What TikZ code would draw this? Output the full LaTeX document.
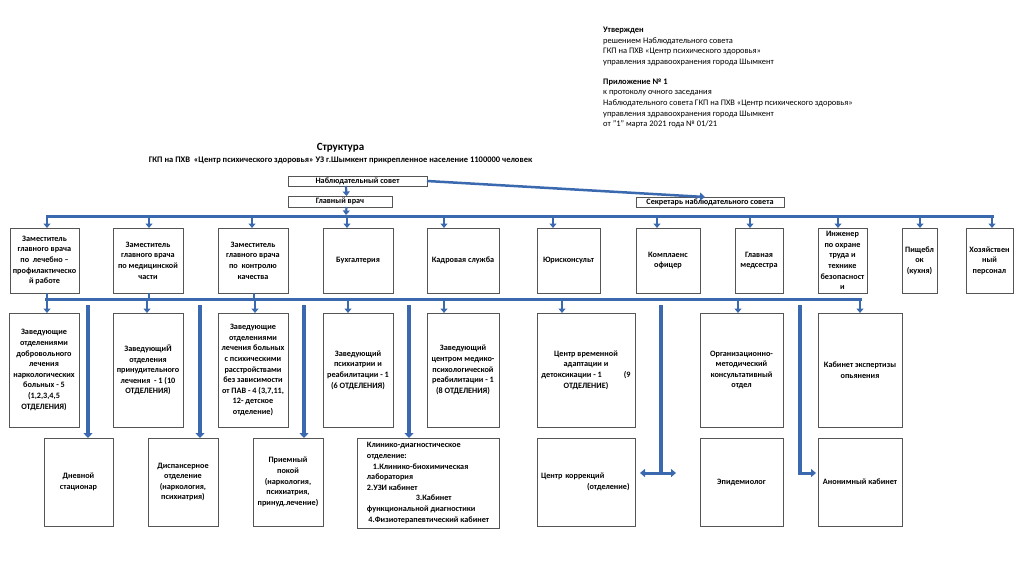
\documentclass[tikz,border=0pt]{standalone}
\usepackage{fontspec}
\setmainfont{Carlito}
\usetikzlibrary{arrows.meta,calc}
\definecolor{lnblue}{RGB}{59,105,175}
\definecolor{bxgray}{RGB}{85,85,85}
\newcommand\bx[7][]{\node[box,#1,minimum width={(#5)-(#3)},minimum height={(#6)-(#4)}] (#2) at ({((#3)+(#5))/2},{((#4)+(#6))/2}) {#7};}
\tikzset{
  box/.style={draw=bxgray, line width=0.8pt, fill=white, inner sep=0.3pt, outer sep=0pt, align=center,
    font=\bfseries\fontsize{8.2}{10.6}\selectfont},
  bus/.style={draw=lnblue, line width=3pt, line cap=rect},
  arr/.style={draw=lnblue, line width=2.2pt, -{Triangle[width=7pt,length=4.5pt]}},
  thk/.style={draw=lnblue, line width=4pt},
  thkarr/.style={draw=lnblue, line width=4pt, -{Triangle[width=9pt,length=5pt]}},
  dbl/.style={draw=lnblue, line width=3pt, {Triangle[width=8pt,length=5pt]}-{Triangle[width=8pt,length=5pt]}},
  sarr/.style={draw=lnblue, line width=3pt, -{Triangle[width=8pt,length=5pt]}},
}
\begin{document}
\begin{tikzpicture}[x=1pt,y=-1pt]
\useasboundingbox[fill=white] (0,0) rectangle (1024,576);

% approval block
\node[anchor=north west, align=left, inner sep=0, font=\fontsize{8.45}{10.55}\selectfont] (appr) at (603,27)
 {\textbf{Утвержден}\\решением Наблюдательного совета\\ГКП на ПХВ «Центр психического здоровья»\\управления здравоохранения города Шымкент\\[9.5pt]
  \textbf{Приложение № 1}\\к протоколу очного заседания\\Наблюдательного совета ГКП на ПХВ «Центр психического здоровья»\\управления здравоохранения города Шымкент\\от "1" марта 2021 года № 01/21};

% titles
\node[inner sep=0, font=\bfseries\fontsize{11}{13}\selectfont] (title) at (340.5,147.5) {Структура};
\node[inner sep=0, font=\bfseries\fontsize{8.5}{10}\selectfont] (sub) at (340.5,160.5) {ГКП на ПХВ\ \ «Центр психического здоровья» УЗ г.Шымкент прикрепленное население 1100000 человек};

% top boxes
\bx{ns}{288}{176}{427}{186}{Наблюдательный совет}
\bx{gv}{288}{196}{392}{207}{Главный врач}
\bx{sec}{636}{197}{784}{207}{Секретарь наблюдательного совета}

% row 1
\bx{r1a}{10}{228}{79}{293}{Заместитель\\главного врача\\по\ \ лечебно –\\профилактическо\\й работе}
\bx{r1b}{113}{228}{183}{293}{Заместитель\\главного врача\\по медицинской\\части}
\bx{r1c}{218}{228}{288}{293}{Заместитель\\главного врача\\по\ \ контролю\\качества}
\bx{r1d}{323}{228}{393}{293}{Бухгалтерия}
\bx{r1e}{427}{228}{499}{293}{Кадровая служба}
\bx{r1f}{537}{228}{600}{293}{Юрисконсульт}
\bx{r1g}{636}{228}{700}{293}{Комплаенс\\офицер}
\bx{r1h}{735}{228}{783}{293}{Главная\\медсестра}
\bx{r1i}{818}{228}{867}{293}{Инженер\\по охране\\труда и\\технике\\безопасност\\и}
\bx{r1j}{902}{228}{937}{293}{Пищебл\\ок\\(кухня)}
\bx{r1k}{966}{228}{1013}{293}{Хозяйствен\\ный\\персонал}

% row 2
\bx{r2a}{9}{313}{79}{427}{Заведующие\\отделениями\\добровольного\\лечения\\наркологических\\больных - 5\\(1,2,3,4,5\\ОТДЕЛЕНИЯ)}
\bx{r2b}{113}{313}{183}{427}{ЗаведующиЙ\\отделения\\принудительного\\лечения\ \ - 1 (10\\ОТДЕЛЕНИЯ)}
\bx{r2c}{218}{313}{288}{427}{Заведующие\\отделениями\\лечения больных\\с психическими\\расстройствами\\без зависимости\\от ПАВ - 4 (3,7,11,\\12- детское\\отделение)}
\bx{r2d}{323}{313}{393}{427}{Заведующий\\психиатрии и\\реабилитации - 1\\(6 ОТДЕЛЕНИЯ)}
\bx{r2e}{427}{313}{499}{427}{Заведующий\\центром медико-\\психологической\\реабилитации - 1\\(8 ОТДЕЛЕНИЯ)}
\bx{r2f}{537}{313}{635}{427}{Центр временной\\адаптации и\\детоксикации - 1\hspace{22pt}(9\\ОТДЕЛЕНИЕ)}
\bx{r2g}{700}{313}{783}{427}{Организационно-\\методический\\консультативный\\отдел}
\bx{r2h}{818}{313}{902}{427}{Кабинет экспертизы\\опьянения}

% row 3
\bx{r3a}{44}{438}{113}{526}{Дневной\\стационар}
\bx{r3b}{148}{438}{218}{526}{Диспансерное\\отделение\\(наркология,\\психиатрия)}
\bx{r3c}{253}{438}{323}{526}{Приемный\\покой\\(наркология,\\психиатрия,\\принуд.лечение)}
\bx[align=left]{r3d}{357}{438}{499}{528}{Клинико-диагностическое\\отделение:\\\hspace*{6pt}1.Клинико-биохимическая\\лаборатория\\2.УЗИ кабинет\\\hspace*{49pt}3.Кабинет\\функциональной диагностики\\\hspace*{1.5pt}4.Физиотерапевтический кабинет}
\bx[align=left, text width=90pt]{r3e}{537}{438}{635}{526}{Центр коррекций\\\hspace*{46pt}(отделение)}
\bx{r3f}{700}{438}{783}{526}{Эпидемиолог}
\bx{r3g}{818}{438}{902}{526}{Анонимный кабинет}

% connectors: council
\coordinate (secin) at ([xshift=-5pt]sec.north);
\draw[sarr, line width=2.5pt] (ns.east) -- (secin);
\draw[arr] ([xshift=-11.5pt]ns.south) -- ([xshift=6.5pt]gv.north);
\coordinate (b1) at (346,216);
\draw[arr] ([xshift=6.5pt]gv.south) -- ([yshift=1pt]b1);

% top bus
\coordinate (busL) at (47,216);
\coordinate (busR) at (992,216);
\draw[bus] (busL) -- (busR);
\foreach \n/\x in {r1a/47,r1b/149,r1c/252,r1d/347,r1e/444,r1f/553,r1g/657,r1h/750,r1i/838,r1j/920,r1k/992}
  \draw[arr] (\x,216) -- (\x,0 |- \n.north);

% second bus
\coordinate (cbL) at (46,299);
\coordinate (cbR) at (860,299);
\draw[bus] (cbL) -- (cbR);
\foreach \n/\x in {r1a/47,r1b/149,r1c/254}
  \draw[draw=lnblue, line width=2.2pt] (\x,0 |- \n.south) -- (\x,299);
\foreach \n/\x in {r2a/47,r2b/147,r2c/255,r2d/348,r2e/444,r2f/562,r2g/738,r2h/860}
  \draw[arr] (\x,299) -- (\x,0 |- \n.north);

% thick verticals to row 3
\foreach \n/\x in {r3a/88,r3b/200,r3c/304,r3d/409}
  \draw[thkarr] (\x,305) -- (\x,0 |- \n.north);
\coordinate (v5) at (661,305);
\coordinate (j5) at (661,473);
\coordinate (v6) at (800,305);
\coordinate (j6) at (800,473);
\draw[thk] (v5) -- (j5);
\draw[thk] (v6) -- (j6);
\coordinate (l5) at ([xshift=5pt]r3e.east |- j5);
\coordinate (r5) at (676,473);
\draw[dbl] (l5) -- (r5);
\coordinate (r6) at ([xshift=-2pt]r3g.west |- j6);
\draw[sarr] ([xshift=-2pt]j6) -- (r6);
\end{tikzpicture}
\end{document}
